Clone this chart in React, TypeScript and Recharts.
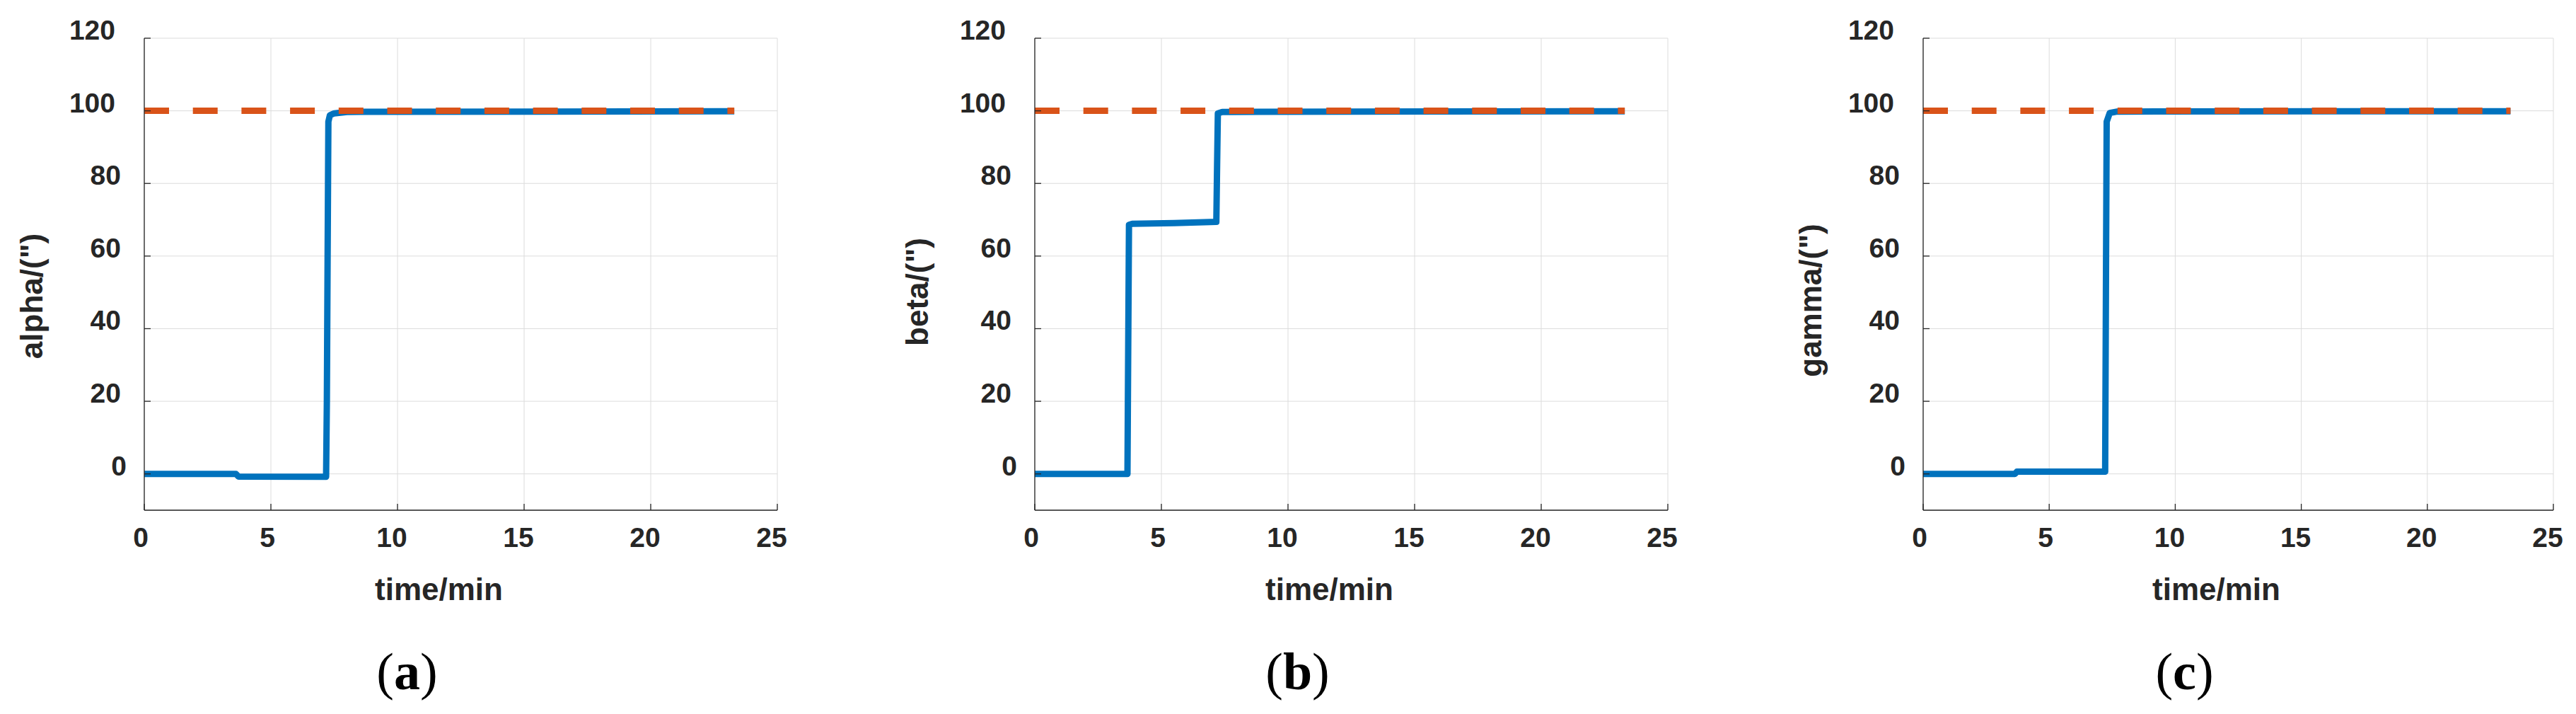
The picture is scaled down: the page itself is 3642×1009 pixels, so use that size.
import React from "react";
import { LineChart, Line, XAxis, YAxis, CartesianGrid, Label } from "recharts";

// ─── Data ─────────────────────────────────────────────────
const timeTicks = [0, 5, 10, 15, 20, 25];
const angleTicks = [0, 20, 40, 60, 80, 100, 120];

// reference (target) angle, dashed
const targetTime = [0, 23.3];
const targetValue = [100, 100];

// measured responses
const alphaTime = [0, 3.62, 3.72, 7.18, 7.21, 7.24, 7.27, 7.33, 7.5, 8.0, 23.3];
const alphaValue = [0, 0, -0.75, -0.8, 20, 60, 97, 98.8, 99.3, 99.7, 99.9];

const betaTime = [0, 3.66, 3.69, 3.72, 3.85, 5.5, 7.17, 7.2, 7.23, 7.4, 23.3];
const betaValue = [0, 0, 35, 68.6, 68.9, 69.1, 69.4, 85, 99.3, 99.7, 99.9];

const gammaTime = [0, 3.64, 3.72, 7.22, 7.25, 7.28, 7.4, 7.7, 23.3];
const gammaValue = [0, 0, 0.6, 0.6, 50, 97, 99.4, 99.8, 99.9];

// ─── Style ────────────────────────────────────────────────
const BLUE = "#0072BD";
const ORANGE = "#D95319";
const AXIS = "#262626";
const GRID = "#dcdcdc";
const SANS = "'Liberation Sans', Arial, Helvetica, sans-serif";
const SERIF = "'Liberation Serif', 'Times New Roman', serif";
const TICK_LEN = 9;

const toRows = (t: number[], v: number[]) => t.map((x, i) => ({ t: x, v: v[i] }));

const panels = [
  { id: "a", yLabel: "alpha/(\")", time: alphaTime, value: alphaValue, left: 0, axisW: 204, plotW: 895, yLabelX: -144, yLabelDy: 31 },
  { id: "b", yLabel: "beta/(\")", time: betaTime, value: betaValue, left: 1240, axisW: 223, plotW: 895, yLabelX: -151, yLabelDy: 25 },
  { id: "c", yLabel: "gamma/(\")", time: gammaTime, value: gammaValue, left: 2480, axisW: 239, plotW: 891, yLabelX: -144, yLabelDy: 37 },
];

// ─── Ticks (MATLAB style: pointing inward) ────────────────
function BottomTick({ x, y, payload }: any) {
  const s = String(payload.value);
  return (
    <g>
      <line x1={x} x2={x} y1={y} y2={y - TICK_LEN} stroke={AXIS} strokeWidth={1.3} />
      <text x={x + (s.length > 1 ? -8 : -5)} y={y + 52} textAnchor="middle"
        fontFamily={SANS} fontWeight="bold" fontSize={39} fill={AXIS}>{s}</text>
    </g>
  );
}

function TopTick({ x, y }: any) {
  return <line x1={x} x2={x} y1={y} y2={y + TICK_LEN} stroke={AXIS} strokeWidth={1.3} />;
}

function LeftTick({ x, y, payload }: any) {
  const s = String(payload.value);
  return (
    <g>
      <line x1={x} x2={x + TICK_LEN} y1={y} y2={y} stroke={AXIS} strokeWidth={1.3} />
      <text x={x - 41 + 8 * (3 - s.length)} y={y + 2} textAnchor="end"
        fontFamily={SANS} fontWeight="bold" fontSize={39} fill={AXIS}>{s}</text>
    </g>
  );
}

function RightTick({ x, y }: any) {
  return <line x1={x - TICK_LEN} x2={x} y1={y} y2={y} stroke={AXIS} strokeWidth={1.3} />;
}

// ─── Panel ────────────────────────────────────────────────
function Panel({ p }: { p: typeof panels[number] }) {
  const width = p.axisW + p.plotW + 30;
  return (
    <div style={{ position: "absolute", left: p.left, top: 0 }}>
      <LineChart width={width} height={1009} margin={{ top: 54, right: 30, bottom: 0, left: 0 }}>
        <CartesianGrid xAxisId="b" yAxisId="l" stroke={GRID} strokeWidth={1} />
        <XAxis xAxisId="b" dataKey="t" type="number" domain={[0, 25]} ticks={timeTicks}
          allowDataOverflow height={288} tickSize={0} tickMargin={0} tickLine={false}
          axisLine={{ stroke: AXIS, strokeWidth: 1.3 }} tick={<BottomTick />}>
          <Label content={(props: any) => {
            const vb = props.viewBox;
            const cx = vb.x + vb.width / 2;
            return (
              <g>
                <text x={cx - 31} y={vb.y + 127} textAnchor="middle" fontFamily={SANS}
                  fontWeight="bold" fontSize={44} fill={AXIS}>time/min</text>
                <text x={cx - 76} y={vb.y + 253} textAnchor="middle" fontFamily={SERIF}
                  fontSize={74} fill="#000">(<tspan fontWeight="bold">{p.id}</tspan>)</text>
              </g>
            );
          }} />
        </XAxis>
        <XAxis xAxisId="t" orientation="top" dataKey="t" type="number" domain={[0, 25]}
          ticks={timeTicks} allowDataOverflow height={0} tickSize={0} tickMargin={0}
          tickLine={false} axisLine={{ stroke: AXIS, strokeWidth: 1.3 }} tick={<TopTick />} />
        <YAxis yAxisId="l" type="number" domain={[-10, 120]} ticks={angleTicks}
          allowDataOverflow width={p.axisW} tickSize={0} tickMargin={0} tickLine={false}
          axisLine={{ stroke: AXIS, strokeWidth: 1.3 }} tick={<LeftTick />}>
          <Label content={(props: any) => {
            const vb = props.viewBox;
            const x = vb.x + vb.width + p.yLabelX;
            const y = vb.y + vb.height / 2 + p.yLabelDy;
            return (
              <text x={x} y={y} transform={`rotate(-90, ${x}, ${y})`} textAnchor="middle"
                fontFamily={SANS} fontWeight="bold" fontSize={44} fill={AXIS}>{p.yLabel}</text>
            );
          }} />
        </YAxis>
        <YAxis yAxisId="r" orientation="right" type="number" domain={[-10, 120]}
          ticks={angleTicks} allowDataOverflow width={0} tickSize={0} tickMargin={0}
          tickLine={false} axisLine={{ stroke: AXIS, strokeWidth: 1.3 }} tick={<RightTick />} />
        <Line xAxisId="b" yAxisId="l" data={toRows(p.time, p.value)} dataKey="v" type="linear"
          stroke={BLUE} strokeWidth={9} strokeLinejoin="round" dot={false}
          activeDot={false} isAnimationActive={false} />
        <Line xAxisId="b" yAxisId="l" data={toRows(targetTime, targetValue)} dataKey="v"
          type="linear" stroke={ORANGE} strokeWidth={9} strokeDasharray="35 33.7"
          strokeLinecap="butt" dot={false} activeDot={false} isAnimationActive={false} />
      </LineChart>
    </div>
  );
}

export default function App() {
  return (
    <div style={{ position: "relative", width: 3642, height: 1009, background: "#fff" }}>
      <style>{`body { margin: 0; }`}</style>
      {panels.map(p => <Panel key={p.id} p={p} />)}
    </div>
  );
}
